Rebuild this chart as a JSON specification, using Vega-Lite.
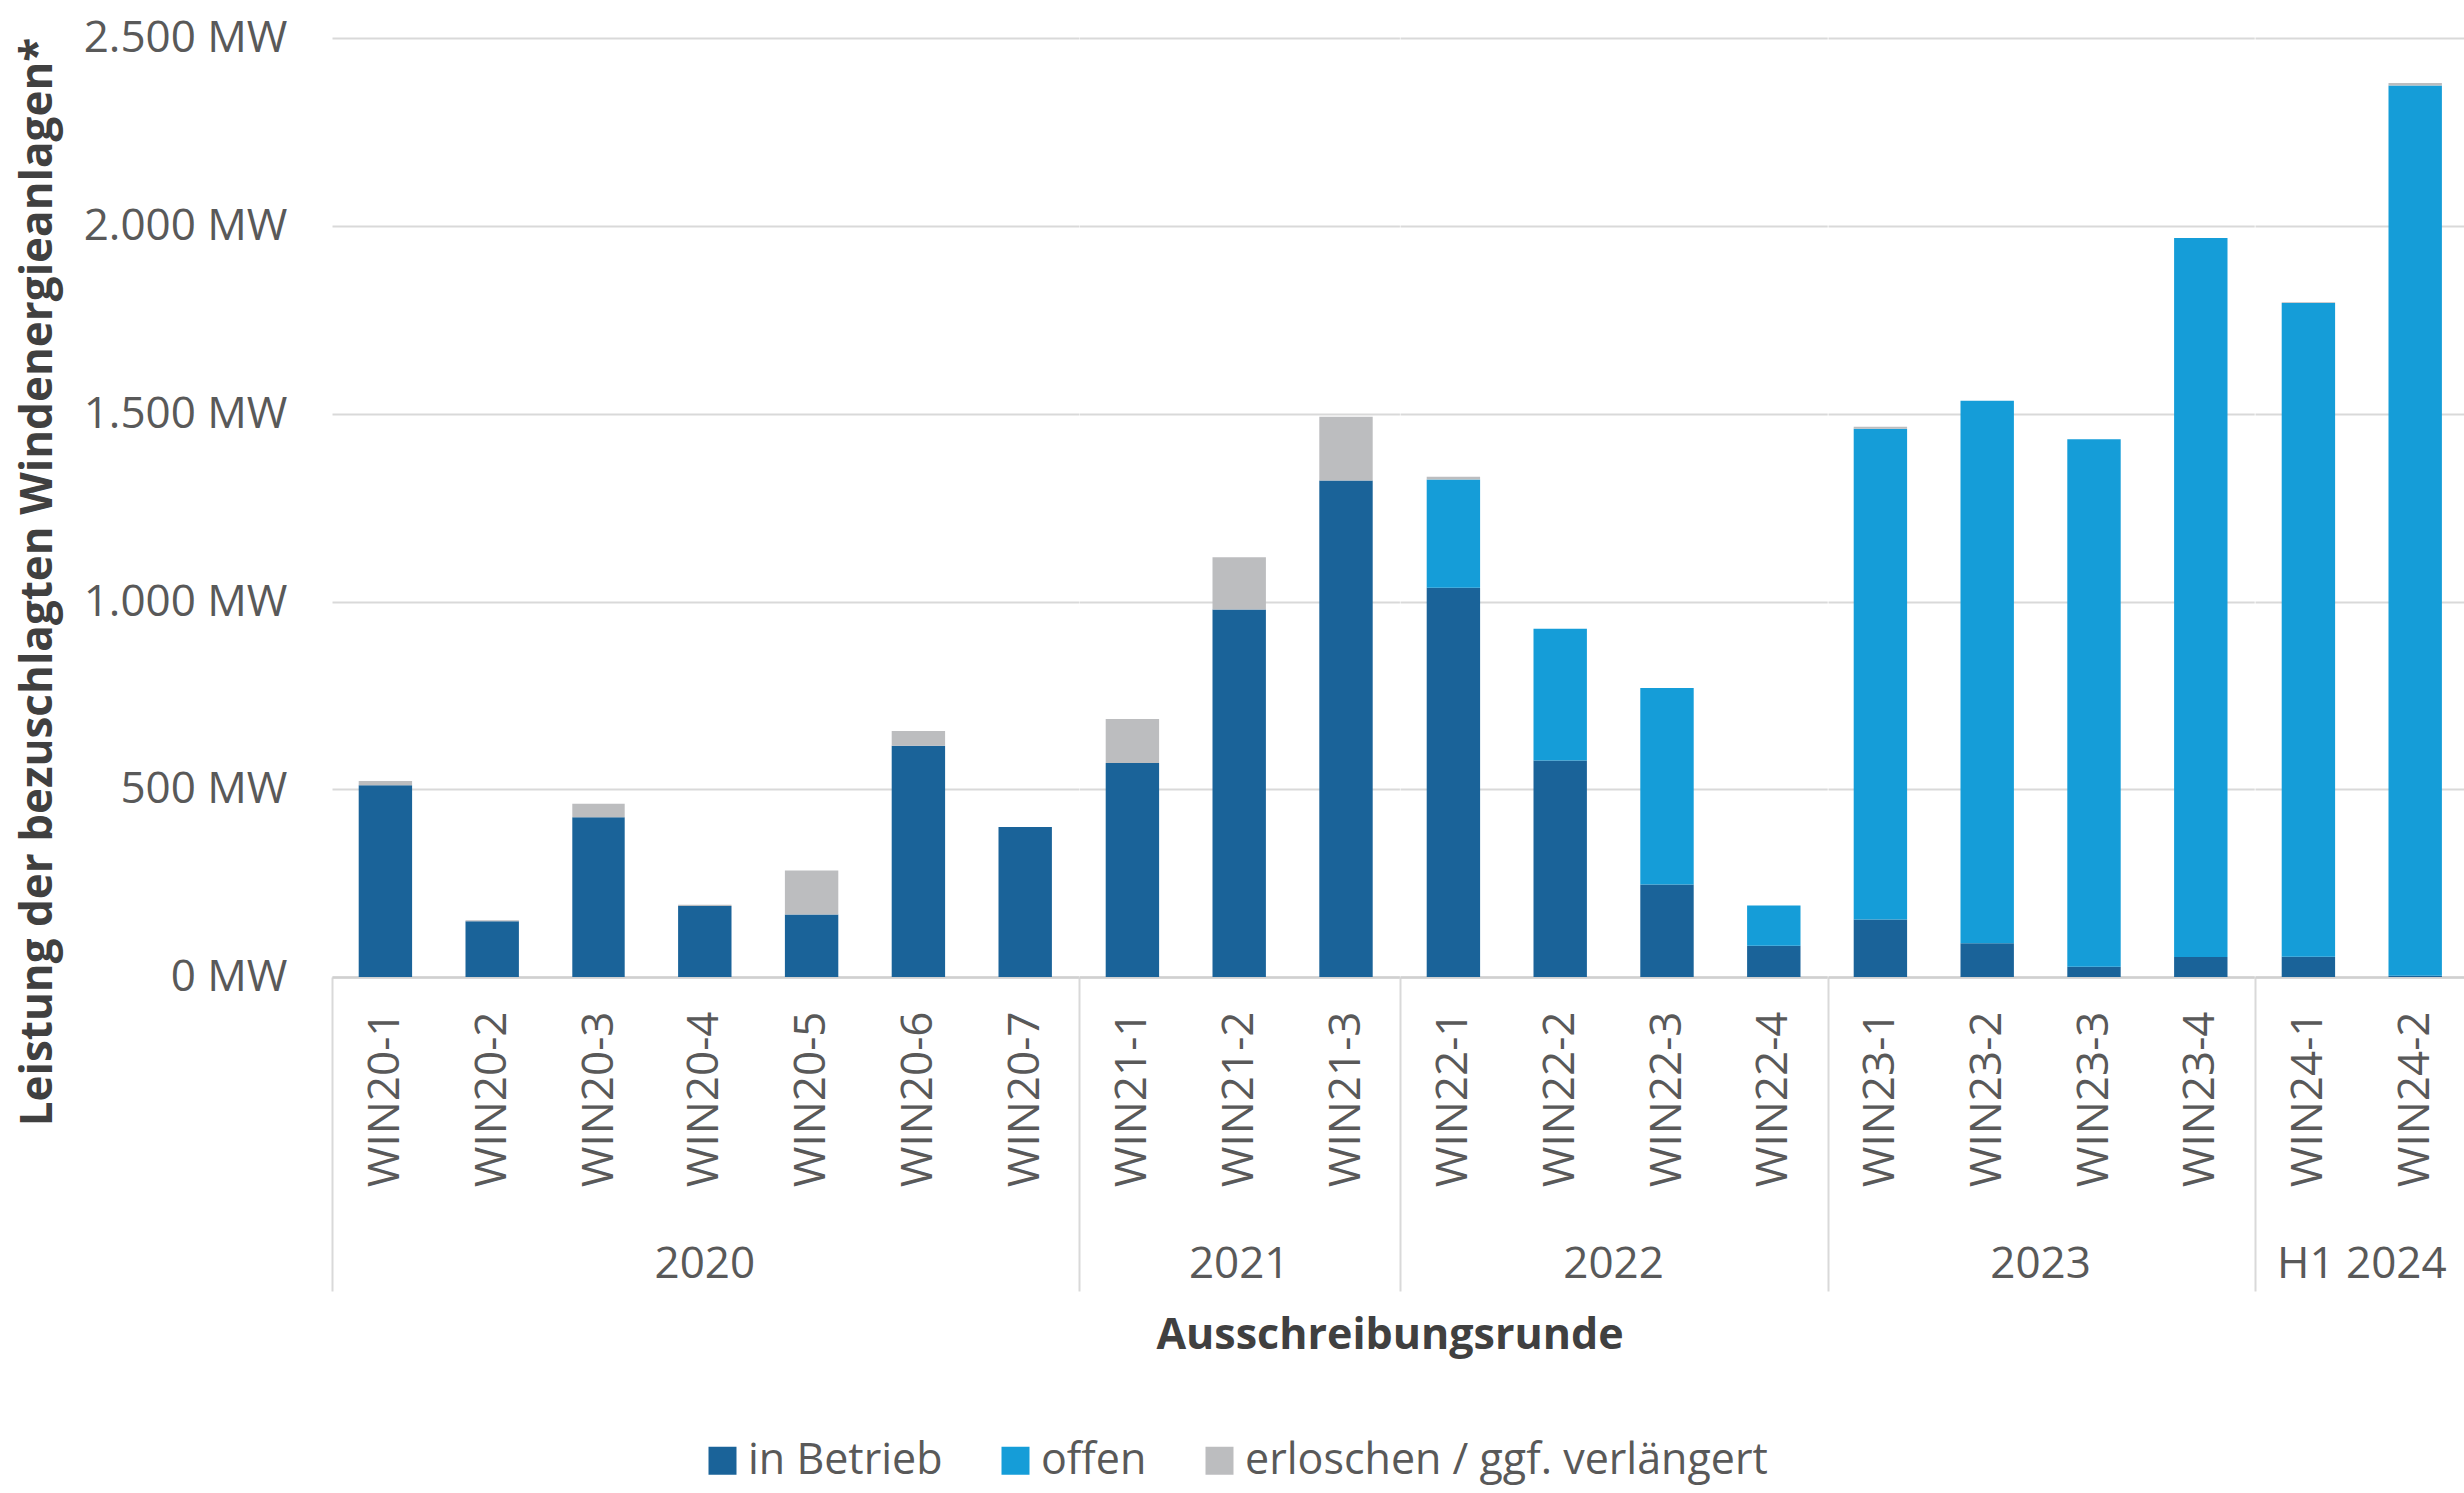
{
  "$schema": "https://vega.github.io/schema/vega-lite/v6.json",
  "padding": {"left": 16, "top": 16, "right": 0, "bottom": 6},
  "config": {
    "font": "Open Sans",
    "view": {"stroke": null},
    "axis": {"labelFont": "Open Sans", "titleFont": "Open Sans"}
  },
  "data": {
    "values": [
      {"round": "WIN20-1", "year": "2020", "status": "in Betrieb", "rank": 1, "mw": 510},
      {"round": "WIN20-1", "year": "2020", "status": "erloschen / ggf. verlängert", "rank": 3, "mw": 11},
      {"round": "WIN20-2", "year": "2020", "status": "in Betrieb", "rank": 1, "mw": 148},
      {"round": "WIN20-2", "year": "2020", "status": "erloschen / ggf. verlängert", "rank": 3, "mw": 3},
      {"round": "WIN20-3", "year": "2020", "status": "in Betrieb", "rank": 1, "mw": 425},
      {"round": "WIN20-3", "year": "2020", "status": "erloschen / ggf. verlängert", "rank": 3, "mw": 36},
      {"round": "WIN20-4", "year": "2020", "status": "in Betrieb", "rank": 1, "mw": 189},
      {"round": "WIN20-4", "year": "2020", "status": "erloschen / ggf. verlängert", "rank": 3, "mw": 3},
      {"round": "WIN20-5", "year": "2020", "status": "in Betrieb", "rank": 1, "mw": 166},
      {"round": "WIN20-5", "year": "2020", "status": "erloschen / ggf. verlängert", "rank": 3, "mw": 117},
      {"round": "WIN20-6", "year": "2020", "status": "in Betrieb", "rank": 1, "mw": 618},
      {"round": "WIN20-6", "year": "2020", "status": "erloschen / ggf. verlängert", "rank": 3, "mw": 39},
      {"round": "WIN20-7", "year": "2020", "status": "in Betrieb", "rank": 1, "mw": 399},
      {"round": "WIN21-1", "year": "2021", "status": "in Betrieb", "rank": 1, "mw": 569},
      {"round": "WIN21-1", "year": "2021", "status": "erloschen / ggf. verlängert", "rank": 3, "mw": 120},
      {"round": "WIN21-2", "year": "2021", "status": "in Betrieb", "rank": 1, "mw": 980},
      {"round": "WIN21-2", "year": "2021", "status": "erloschen / ggf. verlängert", "rank": 3, "mw": 139},
      {"round": "WIN21-3", "year": "2021", "status": "in Betrieb", "rank": 1, "mw": 1323},
      {"round": "WIN21-3", "year": "2021", "status": "erloschen / ggf. verlängert", "rank": 3, "mw": 170},
      {"round": "WIN22-1", "year": "2022", "status": "in Betrieb", "rank": 1, "mw": 1038},
      {"round": "WIN22-1", "year": "2022", "status": "offen", "rank": 2, "mw": 288},
      {"round": "WIN22-1", "year": "2022", "status": "erloschen / ggf. verlängert", "rank": 3, "mw": 7},
      {"round": "WIN22-2", "year": "2022", "status": "in Betrieb", "rank": 1, "mw": 576},
      {"round": "WIN22-2", "year": "2022", "status": "offen", "rank": 2, "mw": 353},
      {"round": "WIN22-3", "year": "2022", "status": "in Betrieb", "rank": 1, "mw": 246},
      {"round": "WIN22-3", "year": "2022", "status": "offen", "rank": 2, "mw": 525},
      {"round": "WIN22-4", "year": "2022", "status": "in Betrieb", "rank": 1, "mw": 83},
      {"round": "WIN22-4", "year": "2022", "status": "offen", "rank": 2, "mw": 107},
      {"round": "WIN23-1", "year": "2023", "status": "in Betrieb", "rank": 1, "mw": 153},
      {"round": "WIN23-1", "year": "2023", "status": "offen", "rank": 2, "mw": 1308},
      {"round": "WIN23-1", "year": "2023", "status": "erloschen / ggf. verlängert", "rank": 3, "mw": 5},
      {"round": "WIN23-2", "year": "2023", "status": "in Betrieb", "rank": 1, "mw": 90},
      {"round": "WIN23-2", "year": "2023", "status": "offen", "rank": 2, "mw": 1445},
      {"round": "WIN23-3", "year": "2023", "status": "in Betrieb", "rank": 1, "mw": 27},
      {"round": "WIN23-3", "year": "2023", "status": "offen", "rank": 2, "mw": 1406},
      {"round": "WIN23-4", "year": "2023", "status": "in Betrieb", "rank": 1, "mw": 53},
      {"round": "WIN23-4", "year": "2023", "status": "offen", "rank": 2, "mw": 1915},
      {"round": "WIN24-1", "year": "H1 2024", "status": "in Betrieb", "rank": 1, "mw": 54},
      {"round": "WIN24-1", "year": "H1 2024", "status": "offen", "rank": 2, "mw": 1741},
      {"round": "WIN24-1", "year": "H1 2024", "status": "erloschen / ggf. verlängert", "rank": 3, "mw": 2},
      {"round": "WIN24-2", "year": "H1 2024", "status": "in Betrieb", "rank": 1, "mw": 3},
      {"round": "WIN24-2", "year": "H1 2024", "status": "offen", "rank": 2, "mw": 2371},
      {"round": "WIN24-2", "year": "H1 2024", "status": "erloschen / ggf. verlängert", "rank": 3, "mw": 6}
    ]
  },
  "facet": {
    "column": {
      "field": "year",
      "type": "nominal",
      "sort": ["2020", "2021", "2022", "2023", "H1 2024"],
      "title": "Ausschreibungsrunde",
      "header": {
        "labelOrient": "bottom",
        "titleOrient": "bottom",
        "labelFontSize": 44,
        "labelColor": "#595959",
        "labelFont": "Open Sans",
        "labelPadding": 266,
        "titleFontSize": 43,
        "titleFontWeight": "bold",
        "titleColor": "#404040",
        "titleFont": "Open Sans",
        "titlePadding": 18
      }
    }
  },
  "spacing": 0,
  "align": "each",
  "bounds": "flush",
  "resolve": {"scale": {"x": "independent"}},
  "spec": {
    "width": {"step": 106.8},
    "height": 940,
    "mark": {"type": "bar", "width": {"band": 0.5}},
    "encoding": {
      "x": {
        "field": "round",
        "type": "nominal",
        "scale": {"paddingInner": 0, "paddingOuter": 0},
        "axis": {
          "title": null,
          "labelAngle": -90,
          "labelFontSize": 44,
          "labelColor": "#595959",
          "labelPadding": -280,
          "domainColor": "#d0d0d0",
          "domainWidth": 2.5,
          "tickBand": "extent",
          "tickSize": 314,
          "tickColor": "#d9d9d9",
          "tickWidth": 2,
          "tickOpacity": {"condition": {"test": "datum.extra || datum.index === -1", "value": 1}, "value": 0}
        }
      },
      "y": {
        "field": "mw",
        "type": "quantitative",
        "stack": "zero",
        "scale": {"domain": [0, 2500], "nice": false},
        "axis": {
          "title": "Leistung der bezuschlagten Windenergieanlagen*",
          "titleFontSize": 44,
          "titleFontWeight": "bold",
          "titleColor": "#404040",
          "titleAngle": -90,
          "titleX": -294,
          "titleY": 544,
          "titleAlign": "center",
          "titleBaseline": "middle",
          "values": [0, 500, 1000, 1500, 2000, 2500],
          "labelExpr": "replace(format(datum.value, ','), ',', '.') + ' MW'",
          "labelFontSize": 44,
          "labelLimit": 400,
          "labelColor": "#595959",
          "labelPadding": 45,
          "ticks": false,
          "domain": false,
          "gridColor": "#d9d9d9",
          "gridWidth": 2
        }
      },
      "color": {
        "field": "status",
        "type": "nominal",
        "scale": {
          "domain": ["in Betrieb", "offen", "erloschen / ggf. verlängert"],
          "range": ["#1a6399", "#159dd8", "#bcbdbf"]
        },
        "legend": {
          "title": null,
          "orient": "none",
          "direction": "horizontal",
          "legendX": 370,
          "legendY": 1402,
          "symbolType": "square",
          "symbolSize": 784,
          "symbolStrokeWidth": 0,
          "labelFontSize": 43,
          "labelColor": "#595959",
          "labelFont": "Open Sans",
          "labelOffset": 4,
          "labelLimit": 1000,
          "columnPadding": 51
        }
      },
      "order": {"field": "rank", "type": "quantitative", "sort": "ascending"}
    }
  }
}
